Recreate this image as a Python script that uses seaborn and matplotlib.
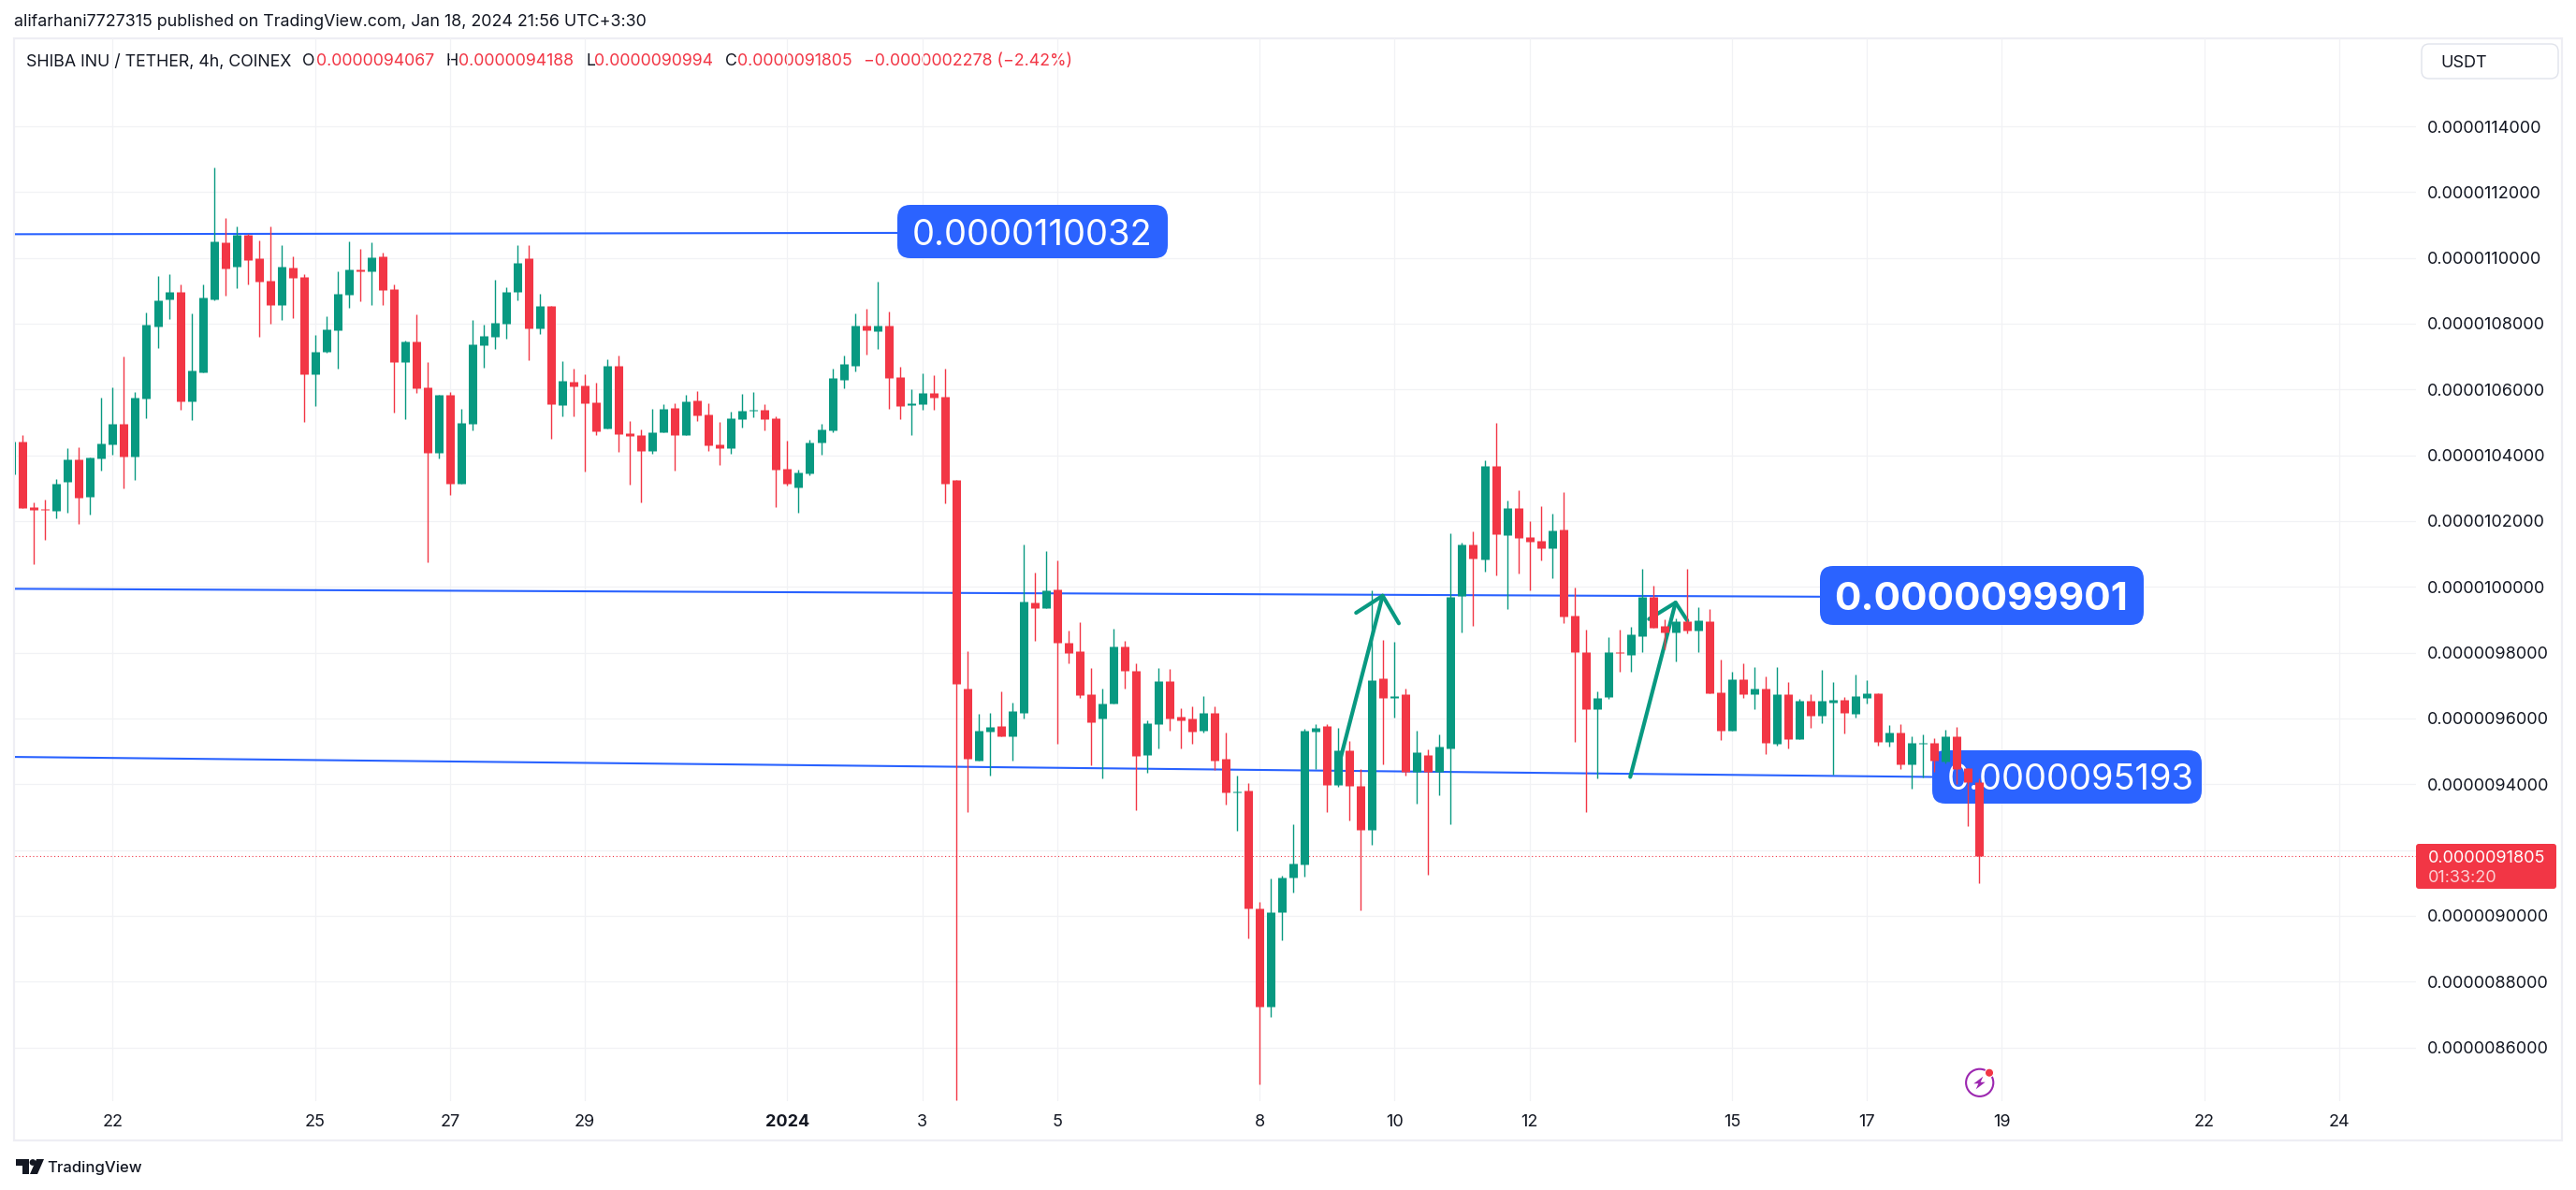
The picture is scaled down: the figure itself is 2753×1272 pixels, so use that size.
import numpy as np
import pandas as pd
import matplotlib
matplotlib.use('Agg')
import matplotlib.pyplot as plt
import seaborn as sns
from matplotlib.patches import FancyBboxPatch, Rectangle, Circle, Polygon

################################################################
# data, prices in units of 0.0000001 USDT, first candle is cut by the frame
open_ = [103.43,
    104.42,102.43,102.38,102.32,103.20,103.88,102.75,103.91,104.33,104.95,
    103.96,105.72,107.90,108.75,108.98,105.63,106.51,108.75,110.48,109.74,
    110.71,110.00,109.32,108.58,109.71,109.43,106.46,107.14,107.79,108.89,
    109.66,109.60,110.05,109.06,106.82,107.45,106.06,104.08,105.83,103.14,
    104.96,107.34,107.60,107.99,108.96,109.98,107.85,108.53,105.52,106.23,
    106.12,105.61,104.82,106.72,104.67,104.62,104.13,104.70,105.44,104.62,
    105.67,105.24,104.33,104.22,105.10,105.35,105.38,105.13,103.60,103.03,
    103.45,104.39,104.76,106.29,106.72,107.94,107.77,107.94,106.38,105.52,
    105.55,105.89,105.78,103.25,96.90,94.73,95.59,95.76,95.45,96.18,
    99.51,99.34,99.92,98.29,98.04,96.73,95.99,96.44,98.18,97.46,
    94.88,95.82,97.13,96.05,95.99,95.62,96.16,94.77,93.74,93.80,
    90.22,87.25,90.10,91.15,91.55,95.59,95.76,93.97,95.04,93.94,
    92.60,97.23,96.62,96.74,94.37,94.90,94.37,95.10,99.73,101.29,
    100.83,103.67,101.56,102.40,101.52,101.40,101.17,101.74,99.13,98.02,
    96.28,96.65,98.02,97.93,98.50,99.70,98.81,98.61,98.96,98.67,
    98.96,96.79,95.63,97.19,96.74,96.91,95.23,96.74,95.37,96.54,
    96.08,96.48,96.57,96.14,96.62,96.77,95.29,95.57,94.60,95.23,
    95.26,94.69,95.46,94.50,94.067]
close = [104.42,
    102.40,102.35,102.35,103.14,103.88,102.72,103.93,104.36,104.95,103.96,
    105.75,107.96,108.72,108.98,105.63,106.57,108.81,110.51,109.69,110.71,
    109.94,109.29,108.58,109.74,109.40,106.46,107.16,107.82,108.92,109.66,
    109.60,110.03,109.03,106.82,107.45,106.03,104.08,105.83,103.14,104.98,
    107.37,107.62,108.02,108.96,109.86,107.85,108.53,105.55,106.26,106.09,
    105.58,104.73,106.72,104.65,104.59,104.13,104.70,105.41,104.62,105.64,
    105.21,104.30,104.22,105.13,105.35,105.38,105.10,103.57,103.14,103.48,
    104.39,104.79,106.35,106.77,107.94,107.79,107.94,106.35,105.50,105.58,
    105.89,105.75,103.14,97.05,94.77,95.62,95.73,95.47,96.22,99.55,
    99.34,99.88,98.29,98.00,96.70,95.87,96.44,98.18,97.44,94.85,
    95.85,97.13,96.01,95.95,95.59,96.16,94.73,93.74,93.78,90.22,
    87.25,90.12,91.15,91.58,95.62,95.70,93.97,95.04,93.94,92.60,
    97.15,96.61,96.67,94.37,94.98,94.37,95.13,99.70,101.29,100.86,
    103.67,101.59,102.40,101.50,101.37,101.17,101.72,99.10,98.02,96.28,
    96.62,98.02,97.99,98.56,99.70,98.76,98.61,98.96,98.67,98.98,
    96.77,95.63,97.19,96.74,96.91,95.26,96.74,95.37,96.54,96.08,
    96.54,96.57,96.17,96.68,96.77,95.29,95.57,94.60,95.26,95.26,
    94.72,95.46,94.46,94.05,91.805]
high = [104.60,
    104.61,102.57,102.66,103.28,104.22,104.25,103.93,105.75,106.06,107.00,
    105.92,108.35,109.46,109.52,109.20,108.30,109.20,112.75,111.22,110.96,
    110.73,110.54,110.96,110.39,110.05,109.52,107.67,108.24,109.60,110.51,
    110.28,110.48,110.17,109.18,107.48,108.27,106.82,105.83,105.92,105.41,
    108.11,107.96,109.33,109.10,110.38,110.40,108.90,108.53,106.86,106.63,
    106.46,106.21,106.91,107.03,105.04,104.79,105.41,105.55,105.58,105.84,
    105.95,105.58,105.01,105.33,105.86,105.92,105.55,105.18,104.45,103.57,
    104.47,104.96,106.63,107.03,108.30,108.45,109.27,108.36,106.69,106.01,
    106.49,106.43,106.63,103.25,98.04,96.13,96.16,96.82,96.47,101.28,
    100.42,101.08,100.79,98.66,98.92,97.52,96.90,98.74,98.35,97.67,
    95.93,97.52,97.50,96.30,96.36,96.67,96.38,95.56,94.25,94.03,
    90.41,91.13,91.21,92.77,95.68,95.82,95.82,95.70,95.31,94.45,
    99.89,98.40,98.34,96.91,95.64,95.05,95.52,101.63,101.35,101.68,
    103.84,104.99,102.63,102.94,102.00,102.45,102.23,102.88,99.98,98.70,
    96.82,98.47,98.70,98.79,100.55,100.04,99.01,99.04,100.55,99.38,
    99.33,97.79,97.42,97.68,97.56,97.28,97.56,97.11,96.60,96.74,
    97.48,97.11,96.65,97.34,97.16,96.77,95.80,95.83,95.46,95.51,
    95.40,95.66,95.74,94.50,94.188]
low = [103.30,
    102.40,100.68,101.44,102.09,102.26,101.92,102.21,103.54,104.02,103.00,
    103.25,105.12,107.25,108.13,105.38,105.07,106.51,108.72,108.84,109.09,
    109.18,107.59,108.01,108.10,108.18,105.01,105.49,107.11,106.63,108.47,
    108.67,108.58,108.58,105.29,105.10,105.89,100.76,103.91,102.80,103.14,
    104.76,106.66,107.23,107.54,108.70,106.89,107.68,104.50,105.18,105.18,
    103.51,104.62,104.82,104.11,103.11,102.57,104.05,104.70,103.54,104.62,
    105.04,104.13,103.71,104.05,104.84,105.16,104.76,102.43,103.08,102.26,
    103.40,104.02,104.70,106.03,106.55,107.06,107.23,105.41,105.10,104.62,
    105.38,105.38,102.54,84.38,93.14,94.73,94.27,95.47,94.71,95.99,
    98.35,99.34,95.22,97.67,96.61,94.57,94.19,96.44,96.92,93.22,
    94.36,95.08,95.62,95.10,95.22,95.56,94.42,93.37,92.58,89.31,
    84.89,86.92,89.25,90.70,91.18,94.45,93.14,93.91,92.89,90.18,
    92.17,94.59,96.04,94.25,93.40,91.24,93.66,92.77,98.60,98.82,
    100.47,100.35,99.33,100.41,99.89,100.80,100.26,98.90,95.29,93.16,
    94.18,96.60,97.42,97.42,98.02,98.76,98.09,97.73,98.59,98.02,
    96.77,95.34,95.63,96.62,96.28,94.92,95.17,95.09,95.37,95.71,
    95.86,94.29,95.54,96.03,96.45,95.17,95.15,94.46,93.87,94.21,
    94.38,94.63,94.02,92.72,90.994]

price_ticks = [86, 88, 90, 92, 94, 96, 98, 100, 102, 104, 106, 108, 110, 112, 114]
price_labels = ['0.0000086000', '0.0000088000', '0.0000090000', '0.0000092000', '0.0000094000',
                '0.0000096000', '0.0000098000', '0.0000100000', '0.0000102000', '0.0000104000',
                '0.0000106000', '0.0000108000', '0.0000110000', '0.0000112000', '0.0000114000']
date_ticks = [8, 26, 38, 50, 68, 80, 92, 110, 122, 134, 152, 164, 176, 194, 206]
date_labels = ['22', '25', '27', '29', '2024', '3', '5', '8', '10', '12', '15', '17', '19', '22', '24']

last_price = 91.805

# hand drawn lines: candle numbers and prices
line_top_x, line_top_y = [-1, 77.86], [110.72, 110.76]
line_mid_x, line_mid_y = [-1, 159.8], [99.94, 99.70]
line_low_x, line_low_y = [-1, 169.8], [94.83, 94.22]
arrow1_shaft_x, arrow1_shaft_y = [116.98, 120.94], [94.50, 99.73]
arrow1_head_x, arrow1_head_y = [118.58, 120.94, 122.38], [99.21, 99.73, 98.89]
arrow2_shaft_x, arrow2_shaft_y = [142.96, 146.99], [94.22, 99.52]
arrow2_head_x, arrow2_head_y = [144.63, 146.99, 148.04], [99.02, 99.52, 98.97]

################################################################
# style:
GREEN = '#089981'
RED = '#F23645'
BLUE = '#2962FF'
INK = '#131722'
GRID = '#F1F2F5'
FRAME = '#EEEEF4'

sns.set_theme(style='white')
plt.rcParams['font.family'] = ['Inter', 'DejaVu Sans']

W, H = 2753, 1272
fig = plt.figure(figsize=(W / 100, H / 100), dpi=100, facecolor='white')

# page is in pixels, holds everything outside the chart
page = fig.add_axes([0, 0, 1, 1], zorder=0)
page.set_xlim(0, W)
page.set_ylim(H, 0)
page.axis('off')

L, R, T, B = 15.5, 2582, 41, 1177
ax = fig.add_axes([L / W, (H - B) / H, (R - L) / W, (B - T) / H], zorder=1)
ax.patch.set_alpha(0)
sns.despine(ax=ax, left=True, bottom=True, right=True, top=True)

################################################################
# candles:
candle = np.arange(-1, len(open_) - 1)
updown = np.where(np.array(close) >= np.array(open_), 'up', 'down')
palette = {'up': GREEN, 'down': RED}

wicks = pd.DataFrame({'candle': np.r_[candle, candle], 'price': np.r_[high, low], 'dir': np.r_[updown, updown]})
bodies = pd.DataFrame({'candle': np.r_[candle, candle], 'price': np.r_[open_, close], 'dir': np.r_[updown, updown]})

sns.lineplot(data=wicks, x='candle', y='price', units='candle', hue='dir', palette=palette, estimator=None,
             sort=False, legend=False, linewidth=1.0, solid_capstyle='butt', zorder=4, ax=ax)
sns.lineplot(data=bodies, x='candle', y='price', units='candle', hue='dir', palette=palette, estimator=None,
             sort=False, legend=False, linewidth=6.5, solid_capstyle='butt', zorder=4, ax=ax)

# trend lines and arrows sit under the candles
for xs, ys in [(line_top_x, line_top_y), (line_mid_x, line_mid_y), (line_low_x, line_low_y)]:
    sns.lineplot(x=xs, y=ys, color=BLUE, linewidth=1.5, sort=False, estimator=None, zorder=2, ax=ax)
for xs, ys in [(arrow1_shaft_x, arrow1_shaft_y), (arrow1_head_x, arrow1_head_y),
               (arrow2_shaft_x, arrow2_shaft_y), (arrow2_head_x, arrow2_head_y)]:
    sns.lineplot(x=xs, y=ys, color=GREEN, linewidth=3.0, sort=False, estimator=None, zorder=2.2,
                 solid_capstyle='round', solid_joinstyle='round', ax=ax)

ax.axhline(last_price, color=RED, linewidth=0.8, linestyle=(0, (1, 2.4)), zorder=1.5)

# text labels of the lines, the candles go over them
for x0, y0, x1, y1, txt, tx, weight, fs in [
        (959, 219, 1248, 276, '0.0000110032', 975, 'normal', 27.4),
        (1945, 605, 2291, 668, '0.0000099901', 1960, 'bold', 30.4),
        (2065, 802, 2353, 859, '0.0000095193', 2081, 'normal', 27.4)]:
    box = FancyBboxPatch((x0 + 14, y0 + 14), x1 - x0 - 28, y1 - y0 - 28, boxstyle='round,pad=14,rounding_size=14',
                         fc='#2B63FF', ec='none', transform=page.transData, zorder=3)
    ax.add_patch(box)
    ax.text(tx, (y0 + y1) / 2, txt, color='white', fontsize=fs, fontweight=weight, va='center_baseline', ha='left',
            transform=page.transData, zorder=3.1)

################################################################
# axes:
ax.set_xlim(-0.7323, 212.84)
ax.set_ylim(84.365, 116.674)
ax.set_xlabel('')
ax.set_ylabel('')
ax.set_axisbelow(True)
ax.grid(True, color=GRID, linewidth=0.9)
ax.yaxis.tick_right()
ax.set_yticks(price_ticks, labels=price_labels)
ax.set_xticks(date_ticks, labels=date_labels)
ax.tick_params(axis='y', length=0, pad=8.6, labelsize=13, labelcolor=INK)
ax.tick_params(axis='x', length=0, pad=10, labelsize=13, labelcolor=INK)
for lab in ax.get_xticklabels():
    if lab.get_text() == '2024':
        lab.set_fontweight('bold')

# last price tag
ax.add_patch(FancyBboxPatch((2584, 904), 146, 44, boxstyle='round,pad=2,rounding_size=3', fc=RED, ec='none',
                            transform=page.transData, clip_on=False, zorder=6))
ax.text(2594.5, 915.3, '0.0000091805', color='white', fontsize=13, va='center_baseline', transform=page.transData,
        clip_on=False, zorder=7)
ax.text(2594.5, 936.7, '01:33:20', color='#FBD0D4', fontsize=13, va='center_baseline', transform=page.transData,
        clip_on=False, zorder=7)

################################################################
# page furniture:
page.add_patch(Rectangle((15, 41), 2723, 1178, fc='none', ec=FRAME, lw=1.6))
page.text(15, 21, 'alifarhani7727315 published on TradingView.com, Jan 18, 2024 21:56 UTC+3:30',
          color=INK, fontsize=12.85, va='center_baseline')

header = [(27.5, 'SHIBA INU / TETHER, 4h, COINEX', INK), (323, 'O', INK), (338, '0.0000094067', RED), (476, 'H', INK),
          (490, '0.0000094188', RED), (626, 'L', INK), (635, '0.0000090994', RED), (775, 'C', INK),
          (788, '0.0000091805', RED), (923, '\u22120.0000002278 (\u22122.42%)', RED)]
for x, txt, col in header:
    page.text(x, 64, txt, color=col, fontsize=12.8, va='center_baseline')

page.add_patch(FancyBboxPatch((2596, 55), 130, 21, boxstyle='round,pad=8,rounding_size=8', fc='white',
                              ec='#E0E3EB', lw=1.0))
page.text(2608, 65, 'USDT', color=INK, fontsize=13, va='center_baseline')

# lightning icon
page.add_patch(Circle((2115.7, 1157.3), 14.6, fc='none', ec='#9C27B0', lw=1.5))
page.add_patch(Polygon([(2119.3, 1150.7), (2109.3, 1158.3), (2114.3, 1158.3), (2111.7, 1164.3),
                        (2121.7, 1156.7), (2116.7, 1156.7)], fc='#9C27B0', ec='none'))
page.add_patch(Circle((2126, 1146.7), 4.6, fc=RED, ec='white', lw=0.8))

# TradingView logo
page.add_patch(Polygon([(17, 1239), (31, 1239), (31, 1255), (24, 1255), (24, 1246), (17, 1246)], fc=INK, ec='none'))
page.add_patch(Circle((35, 1242.5), 3.4, fc=INK, ec='none'))
page.add_patch(Polygon([(39, 1239), (47, 1239), (40, 1255), (32, 1255)], fc=INK, ec='none'))
page.text(50, 1247, 'TradingView', color=INK, fontsize=12, fontweight='medium', va='center_baseline')

fig.savefig('out.png', dpi=100)
